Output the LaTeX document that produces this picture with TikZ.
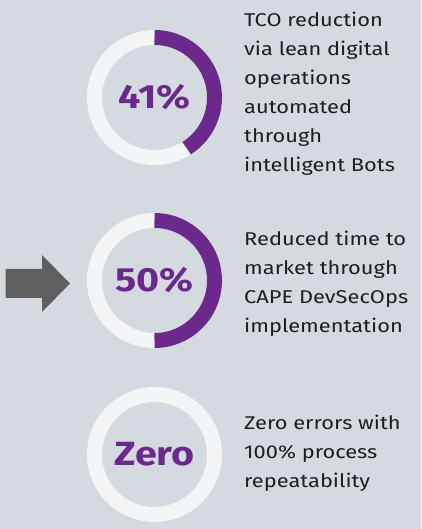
\documentclass[tikz,border=0pt]{standalone}
\usepackage{fontspec}
\setmainfont[FakeStretch = 1.18]{Fira Sans}
\usetikzlibrary{calc}

\definecolor{backdrop}{RGB}{213,218,224}
\definecolor{ringlight}{RGB}{243,245,247}
\definecolor{ringpurple}{RGB}{107,42,139}
\definecolor{textdark}{RGB}{30,30,30}
\definecolor{arrowgray}{RGB}{95,95,95}

\begin{document}
\begin{tikzpicture}[
    x = 1pt, y = 1pt,
    ring/.style = {circle, draw = ringlight, line width = 15pt,
      minimum size = 120pt, inner sep = 0pt, outer sep = 0pt,
      text = ringpurple, font = \bfseries\fontsize{33.5}{33.5}\selectfont},
    progress/.style = {draw = ringpurple, line width = 15pt},
    blurb/.style = {anchor = west, align = left, inner sep = 0pt,
      text = textdark, font = \fontsize{18.5}{29}\selectfont},
  ]
  \fill [backdrop] (0,0) rectangle (421,529);
  \useasboundingbox (0,0) rectangle (421,529);

  \foreach \i/\y/\val in {1/431.5/41\%, 2/248.5/50\%, 3/74.5/Zero} {
    \node [ring] (ring \i) at (154.5,\y) {\val};
  }

  \draw [progress] (ring 1.north) arc [start angle = 90, end angle = -57.6, radius = 60pt];
  \draw [progress] (ring 2.north) arc [start angle = 90, end angle = -90, radius = 60pt];

  \node [blurb] (blurb 1) at ($(ring 1.east) + (29.5,3.5)$)
    {TCO reduction\\via lean digital\\operations\\automated\\through\\intelligent Bots};
  \node [blurb] (blurb 2) at ($(ring 2.east) + (29.5,-3)$)
    {Reduced time to\\market through\\CAPE DevSecOps\\implementation};
  \node [blurb] (blurb 3) at ($(ring 3.east) + (29.5,1)$)
    {Zero errors with\\100\% process\\repeatability};

  % arrow pointing at the middle ring
  \fill [arrowgray] (5.7,260) -- (42,260) -- (42,274) -- (70,245.5)
    -- (42,217) -- (42,231) -- (5.7,231) -- cycle;
\end{tikzpicture}
\end{document}
